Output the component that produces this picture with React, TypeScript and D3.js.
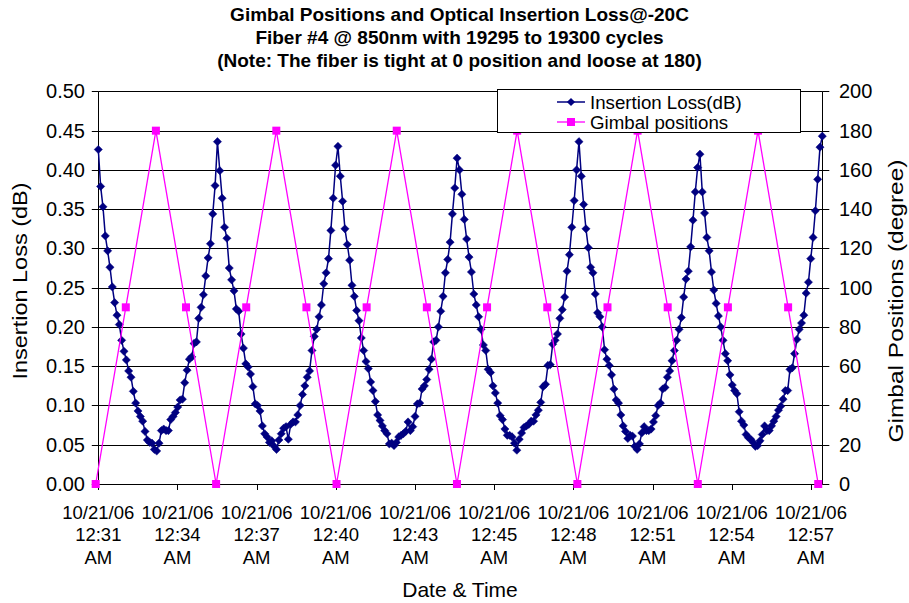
import React from "react";
import * as d3 from "d3";

// ---- data ----
const titleLines = [
  "Gimbal Positions and Optical Insertion Loss@-20C",
  "Fiber #4 @ 850nm with 19295 to 19300 cycles",
  "(Note: The fiber is tight at 0 position and loose at 180)",
];
const tickDate = "10/21/06";
const tickTimes = ["12:31", "12:34", "12:37", "12:40", "12:43", "12:45", "12:48", "12:51", "12:54", "12:57"];
const tickAmPm = "AM";
const leftTicks = [0, 0.05, 0.1, 0.15, 0.2, 0.25, 0.3, 0.35, 0.4, 0.45, 0.5];
const rightTicks = [0, 20, 40, 60, 80, 100, 120, 140, 160, 180, 200];

// Gimbal positions (degree), one sample every ~65.7 s
const gimbalPositions = [0, 90, 180, 90, 0, 90, 180, 90, 0, 90, 180, 90, 0, 90, 180, 90, 0, 90, 180, 90, 0, 90, 180, 90, 0];

// Insertion loss (dB), sampled every ~5 s, split per gimbal cycle (each starts at a peak)
const ilCycle1 = [0.426,0.379,0.353,0.316,0.297,0.276,0.251,0.231,0.215,0.203,0.183,0.169,0.158,0.144,0.136,0.118,0.103,0.093,0.086,0.080,0.067,0.056,0.053,0.052,0.044,0.042,0.052,0.068,0.070,0.068,0.068,0.082,0.086,0.091,0.098,0.107,0.108,0.129,0.145,0.159,0.162,0.179,0.181,0.211,0.225,0.241,0.265,0.288,0.306,0.344,0.380];
const ilCycle2 = [0.436,0.399,0.364,0.327,0.313,0.275,0.260,0.246,0.223,0.220,0.191,0.173,0.153,0.149,0.140,0.124,0.102,0.100,0.093,0.074,0.064,0.060,0.053,0.055,0.048,0.044,0.056,0.064,0.071,0.073,0.057,0.076,0.079,0.079,0.088,0.100,0.114,0.125,0.136,0.144,0.170,0.188,0.197,0.213,0.228,0.255,0.269,0.287,0.323,0.364,0.406];
const ilCycle3 = [0.430,0.392,0.360,0.325,0.305,0.285,0.253,0.239,0.221,0.208,0.186,0.170,0.156,0.147,0.130,0.119,0.105,0.088,0.081,0.074,0.068,0.064,0.051,0.052,0.049,0.053,0.060,0.062,0.064,0.067,0.079,0.068,0.073,0.086,0.102,0.103,0.121,0.125,0.133,0.146,0.159,0.181,0.183,0.200,0.220,0.239,0.269,0.286,0.308,0.344,0.377];
const ilCycle4 = [0.415,0.400,0.369,0.337,0.312,0.289,0.270,0.242,0.228,0.213,0.197,0.177,0.170,0.146,0.142,0.125,0.116,0.103,0.087,0.082,0.070,0.062,0.062,0.060,0.052,0.043,0.057,0.065,0.072,0.074,0.076,0.080,0.080,0.088,0.094,0.104,0.124,0.127,0.151,0.152,0.178,0.183,0.191,0.211,0.222,0.238,0.271,0.292,0.327,0.361,0.400];
const ilCycle5 = [0.436,0.392,0.356,0.325,0.301,0.276,0.269,0.242,0.218,0.213,0.200,0.171,0.159,0.151,0.139,0.121,0.107,0.103,0.088,0.074,0.067,0.058,0.062,0.061,0.048,0.044,0.051,0.065,0.073,0.068,0.068,0.070,0.079,0.087,0.100,0.103,0.121,0.123,0.136,0.144,0.157,0.170,0.183,0.197,0.212,0.238,0.261,0.271,0.302,0.336,0.372,0.403];
const ilCycle6 = [0.420,0.372,0.345,0.314,0.297,0.270,0.247,0.230,0.214,0.200,0.183,0.166,0.157,0.139,0.126,0.119,0.115,0.092,0.080,0.075,0.063,0.059,0.057,0.053,0.048,0.049,0.055,0.063,0.074,0.068,0.068,0.074,0.080,0.086,0.094,0.099,0.108,0.119,0.119,0.146,0.148,0.166,0.184,0.197,0.205,0.215,0.243,0.257,0.287,0.314,0.348,0.388,0.429,0.443];
// start time (s) of each insertion-loss cycle, and time of the last sample
const ilCycleStarts = [0, 260, 523, 783, 1049, 1313];
const IL_END_S = 1580;

// time axis (seconds from 12:31 AM)
const AXIS_END_S = 1580;
const TICK_STEP_S = 172.8;
const GIMBAL_START_S = -5.7;
const GIMBAL_STEP_S = 65.7;

const FONT = "'Liberation Sans', Arial, Helvetica, sans-serif";
const NAVY = "#000080";
const MAGENTA = "#FF00FF";

export default function App() {
  const W = 909, H = 603;
  const left = 98.3, right = 822.3, top = 91.4, bottom = 484;

  const cycles = [ilCycle1, ilCycle2, ilCycle3, ilCycle4, ilCycle5, ilCycle6];
  const ilData: { t: number; v: number }[] = [];
  cycles.forEach((c, ci) => {
    const t0 = ilCycleStarts[ci];
    const last = ci === cycles.length - 1;
    const t1 = last ? IL_END_S : ilCycleStarts[ci + 1];
    const n = last ? c.length - 1 : c.length;
    c.forEach((v, i) => ilData.push({ t: t0 + ((t1 - t0) * i) / n, v }));
  });
  const gData = gimbalPositions.map((v, i) => ({ t: GIMBAL_START_S + i * GIMBAL_STEP_S, v }));

  const x = d3.scaleLinear().domain([0, AXIS_END_S]).range([left, right]);
  const yL = d3.scaleLinear().domain([0, 0.5]).range([bottom, top]);
  const yR = d3.scaleLinear().domain([0, 200]).range([bottom, top]);

  const ilLine = d3.line<{ t: number; v: number }>().x(d => x(d.t)).y(d => yL(d.v));
  const gLine = d3.line<{ t: number; v: number }>().x(d => x(d.t)).y(d => yR(d.v));

  const px = (v: number) => Math.round(v) + 0.5;
  const tickPos = tickTimes.map((_, i) => x(i * TICK_STEP_S));
  const dh = 4.1; // diamond half diagonal
  const sq = 4; // square half side
  const diamond = `M0,${-dh}L${dh},0L0,${dh}L${-dh},0Z`;

  return (
    <svg width={W} height={H} style={{ position: "absolute", left: 0, top: 0, background: "#fff" }} fontFamily={FONT}>
      <rect x={0} y={0} width={W} height={H} fill="#fff" />
      {/* title */}
      {titleLines.map((t, i) => (
        <text key={i} x={459.5} y={21 + i * 23} textAnchor="middle" fontWeight="bold" fontSize={19} fill="#000">{t}</text>
      ))}

      {/* gridlines */}
      {leftTicks.slice(1).map(v => (
        <line key={v} x1={left} x2={right} y1={px(yL(v))} y2={px(yL(v))} stroke="#000" strokeWidth={1} />
      ))}

      {/* axes */}
      <line x1={px(left)} x2={px(left)} y1={top} y2={bottom} stroke="#000" strokeWidth={1} />
      <line x1={px(right)} x2={px(right)} y1={top} y2={bottom} stroke="#000" strokeWidth={1} />
      <line x1={left} x2={right + 0.5} y1={px(bottom)} y2={px(bottom)} stroke="#000" strokeWidth={1} />

      {/* left ticks */}
      {leftTicks.map(v => (
        <g key={"l" + v}>
          <line x1={left - 6.5} x2={left} y1={px(yL(v))} y2={px(yL(v))} stroke="#000" />
          <text x={85} y={yL(v)} dy="0.35em" textAnchor="end" fontSize={20}>{v.toFixed(2)}</text>
        </g>
      ))}
      {/* right ticks */}
      {rightTicks.map(v => (
        <g key={"r" + v}>
          <line x1={right} x2={right + 7} y1={px(yR(v))} y2={px(yR(v))} stroke="#000" />
          <text x={839} y={yR(v)} dy="0.35em" textAnchor="start" fontSize={20}>{v}</text>
        </g>
      ))}
      {/* bottom ticks */}
      {tickPos.map((p, i) => (
        <g key={"b" + i}>
          <line x1={px(p)} x2={px(p)} y1={bottom} y2={bottom + 6} stroke="#000" />
          <text x={p} y={512.5} dy="0.35em" textAnchor="middle" fontSize={18.5}>{tickDate}</text>
          <text x={p} y={535} dy="0.35em" textAnchor="middle" fontSize={18.5}>{tickTimes[i]}</text>
          <text x={p} y={558} dy="0.35em" textAnchor="middle" fontSize={18.5}>{tickAmPm}</text>
        </g>
      ))}

      {/* axis titles */}
      <text transform="translate(20,281) rotate(-90)" textAnchor="middle" dy="0.35em" fontSize={21} textLength={197} lengthAdjust="spacingAndGlyphs">Insertion Loss (dB)</text>
      <text transform="translate(895.5,301) rotate(-90)" textAnchor="middle" dy="0.35em" fontSize={21} textLength={283} lengthAdjust="spacingAndGlyphs">Gimbal Positions (degree)</text>
      <text x={460} y={590} dy="0.35em" textAnchor="middle" fontSize={21}>Date &amp; Time</text>

      {/* insertion loss series */}
      <path d={ilLine(ilData) || ""} fill="none" stroke={NAVY} strokeWidth={1.5} />
      {ilData.map((d, i) => (
        <path key={"il" + i} d={diamond} transform={`translate(${x(d.t)},${yL(d.v)})`} fill={NAVY} stroke={NAVY} strokeWidth={0.5} />
      ))}

      {/* gimbal series */}
      <path d={gLine(gData) || ""} fill="none" stroke={MAGENTA} strokeWidth={1.3} />
      {gData.map((d, i) => (
        <rect key={"g" + i} x={x(d.t) - sq} y={yR(d.v) - sq} width={sq * 2} height={sq * 2} fill={MAGENTA} />
      ))}

      {/* legend */}
      <rect x={497.5} y={89.5} width={303} height={43} fill="#fff" stroke="#000" strokeWidth={1} />
      <line x1={557} x2={585} y1={102} y2={102} stroke={NAVY} strokeWidth={1.5} />
      <path d={diamond} transform="translate(571,102)" fill={NAVY} />
      <text x={590} y={102} dy="0.35em" fontSize={18.7}>Insertion Loss(dB)</text>
      <line x1={557} x2={585} y1={122} y2={122} stroke={MAGENTA} strokeWidth={1.3} />
      <rect x={571 - sq} y={122 - sq} width={sq * 2} height={sq * 2} fill={MAGENTA} />
      <text x={590} y={122} dy="0.35em" fontSize={18.7}>Gimbal positions</text>
    </svg>
  );
}
